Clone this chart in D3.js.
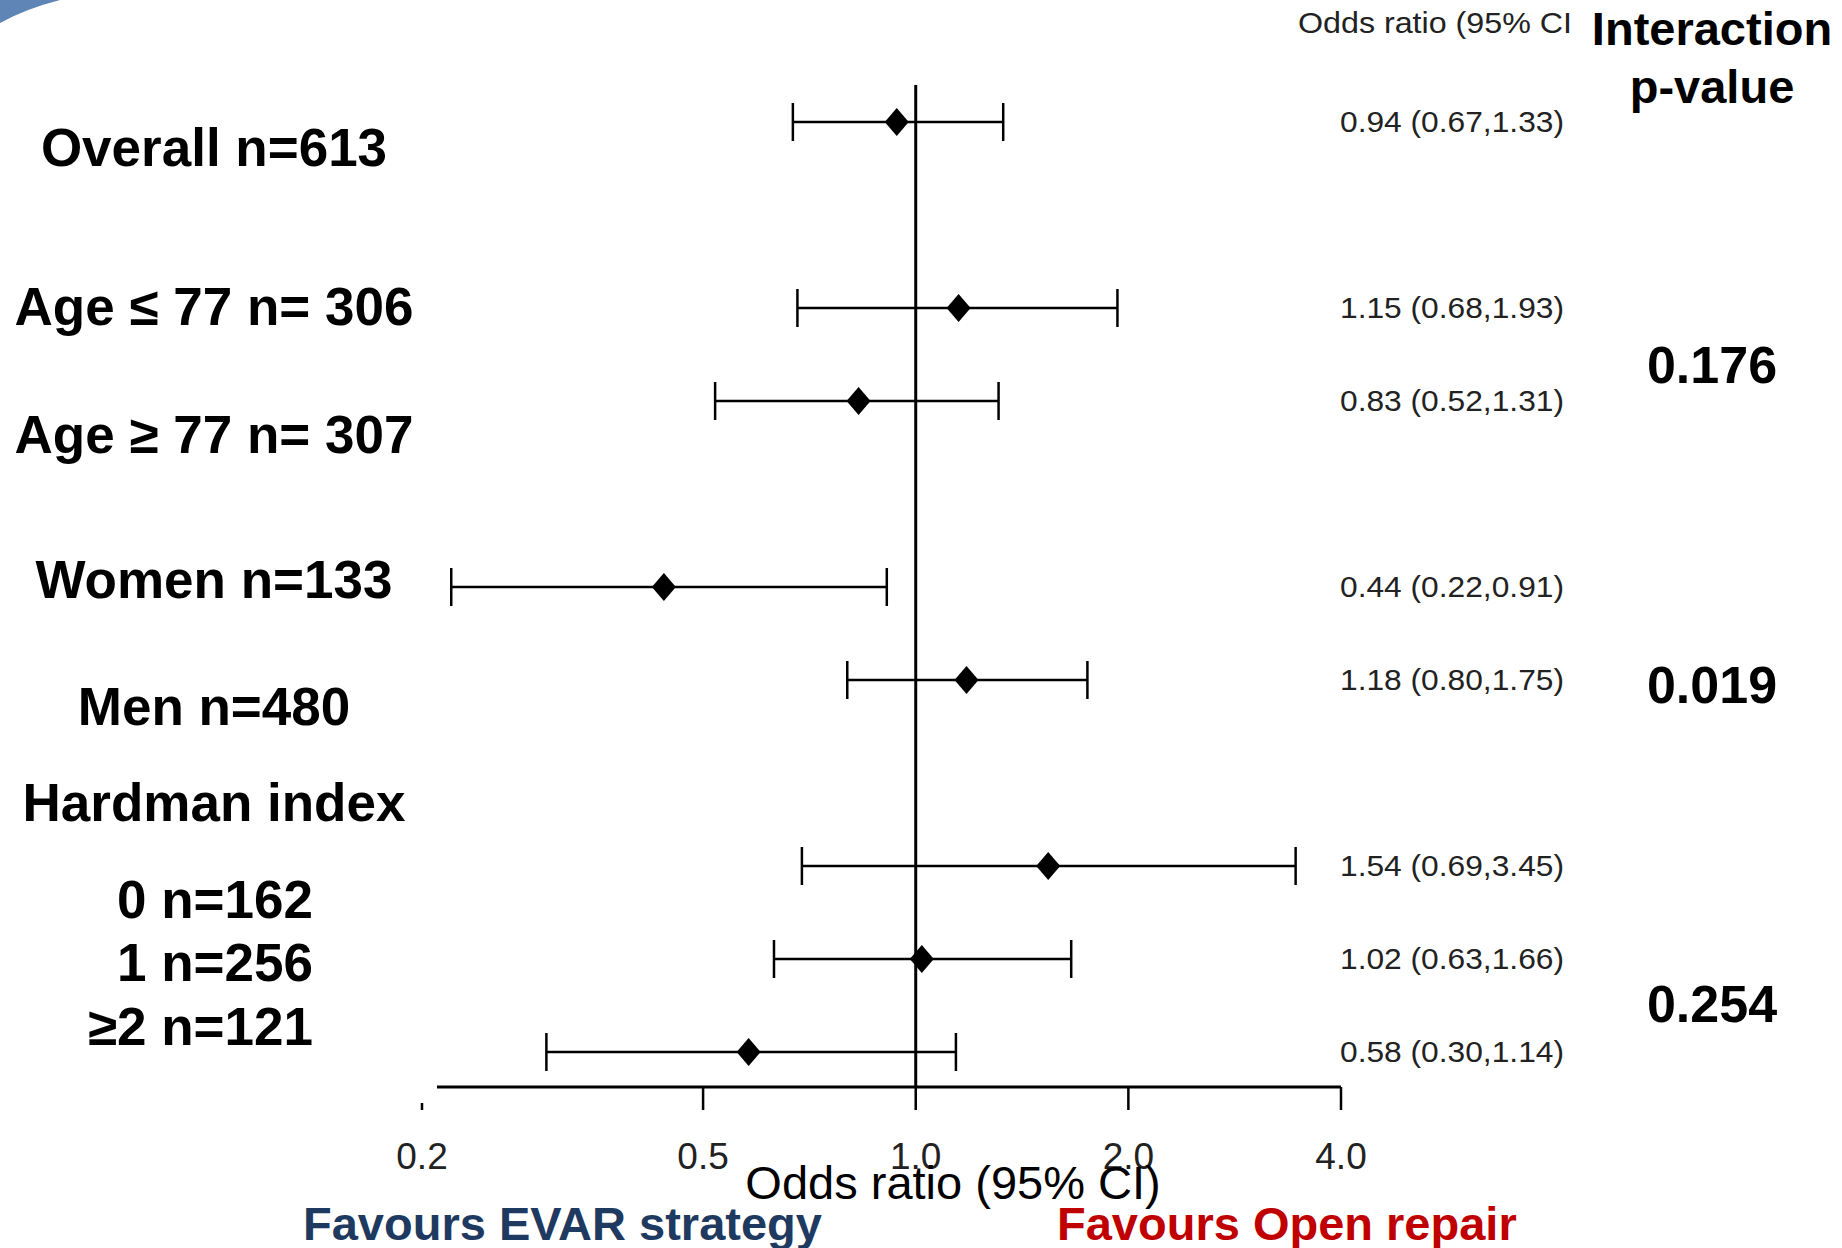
<!DOCTYPE html>
<html>
<head>
<meta charset="utf-8">
<script src="https://cdn.jsdelivr.net/npm/d3@7"></script>
<style>
  html, body { margin: 0; padding: 0; background: #fff; }
  svg { display: block; font-family: "Liberation Sans", Arial, sans-serif; }
</style>
</head>
<body>
<script>
/* subgroup estimates */
var subgroups = ["Overall", "Age <= 77", "Age >= 77", "Women", "Men", "Hardman 0", "Hardman 1", "Hardman >=2"];
var oddsRatio = [0.94, 1.15, 0.83, 0.44, 1.18, 1.54, 1.02, 0.58];
var ciLower   = [0.67, 0.68, 0.52, 0.22, 0.80, 0.69, 0.63, 0.30];
var ciUpper   = [1.33, 1.93, 1.31, 0.91, 1.75, 3.45, 1.66, 1.14];
var rowSlot   = [0, 2, 3, 5, 6, 8, 9, 10];

var rowLabels = ["Overall n=613", "Age \u2264 77 n= 306", "Age \u2265 77 n= 307", "Women n=133",
                 "Men n=480", "Hardman index", "0 n=162", "1 n=256", "\u22652 n=121"];
var labelSlot = [0.27, 1.98, 3.35, 4.91, 6.28, 7.31, 8.35, 9.03, 9.72];

var pValues = ["0.176", "0.019", "0.254"];
var pSlot   = [2.61, 6.05, 9.48];

var tickValues = [0.2, 0.5, 1, 2, 4];
var tickLabels = ["0.2", "0.5", "1.0", "2.0", "4.0"];

var W = 1842, H = 1248;

var svg = d3.select("body").append("svg")
    .attr("width", W)
    .attr("height", H);

var x = d3.scaleLog().domain([0.2, 4]).range([422, 1341]);
var y = d3.scaleLinear().domain([0, 10]).range([122, 1052]);

var axisY = 1087;

/** slide decoration in the corner **/
svg.append("path")
    .attr("d", "M0,0 L60,0 Q25,9 0,23 Z")
    .attr("fill", "#5f84b6");

/** reference line at OR = 1 **/
svg.append("line")
    .attr("x1", x(1)).attr("x2", x(1))
    .attr("y1", 85).attr("y2", axisY)
    .attr("stroke", "#000").attr("stroke-width", 3);

/** x axis, drawn by hand to keep the odd look of the original **/
svg.append("line")
    .attr("x1", x(0.21)).attr("x2", x(4))
    .attr("y1", axisY).attr("y2", axisY)
    .attr("stroke", "#000").attr("stroke-width", 3);

svg.selectAll(".tick")
    .data(tickValues)
    .enter().append("line")
    .attr("class", "tick")
    .attr("x1", function (d) { return x(d); })
    .attr("x2", function (d) { return x(d); })
    .attr("y1", function (d) { return d === 0.2 ? 1103 : axisY; })
    .attr("y2", 1110)
    .attr("stroke", "#000").attr("stroke-width", 2.5);

svg.selectAll(".tick-label")
    .data(tickValues)
    .enter().append("text")
    .attr("class", "tick-label")
    .attr("x", function (d) { return x(d); })
    .attr("y", 1169)
    .attr("text-anchor", "middle")
    .attr("font-size", 37)
    .attr("fill", "#222")
    .text(function (d, i) { return tickLabels[i]; });

svg.append("text")
    .attr("x", 953).attr("y", 1199)
    .attr("text-anchor", "middle")
    .attr("font-size", 47)
    .attr("fill", "#000")
    .text("Odds ratio (95% CI)");

svg.append("text")
    .attr("x", 303).attr("y", 1240)
    .attr("font-size", 47).attr("font-weight", "bold")
    .attr("fill", "#1f3a60")
    .text("Favours EVAR strategy");

svg.append("text")
    .attr("x", 1057).attr("y", 1240)
    .attr("font-size", 47).attr("font-weight", "bold")
    .attr("fill", "#c00000")
    .text("Favours Open repair");

/** error bars and point estimates **/
var capHalf = 19;

var rows = svg.selectAll(".row")
    .data(oddsRatio)
    .enter().append("g")
    .attr("class", "row")
    .attr("transform", function (d, i) { return "translate(0," + y(rowSlot[i]) + ")"; });

rows.append("line")
    .attr("x1", function (d, i) { return x(ciLower[i]); })
    .attr("x2", function (d, i) { return x(ciUpper[i]); })
    .attr("y1", 0).attr("y2", 0)
    .attr("stroke", "#000").attr("stroke-width", 2.7);

rows.append("line")
    .attr("x1", function (d, i) { return x(ciLower[i]); })
    .attr("x2", function (d, i) { return x(ciLower[i]); })
    .attr("y1", -capHalf).attr("y2", capHalf)
    .attr("stroke", "#000").attr("stroke-width", 2.5);

rows.append("line")
    .attr("x1", function (d, i) { return x(ciUpper[i]); })
    .attr("x2", function (d, i) { return x(ciUpper[i]); })
    .attr("y1", -capHalf).attr("y2", capHalf)
    .attr("stroke", "#000").attr("stroke-width", 2.5);

rows.append("path")
    .attr("d", function (d) {
        var cx = x(d);
        return "M" + cx + ",-14 L" + (cx + 12) + ",0 L" + cx + ",14 L" + (cx - 12) + ",0 Z";
    })
    .attr("fill", "#000");

rows.append("text")
    .attr("x", 1564)
    .attr("y", 10)
    .attr("text-anchor", "end")
    .attr("font-size", 29)
    .attr("fill", "#222")
    .attr("textLength", 224)
    .attr("lengthAdjust", "spacingAndGlyphs")
    .text(function (d, i) {
        return d.toFixed(2) + " (" + ciLower[i].toFixed(2) + "," + ciUpper[i].toFixed(2) + ")";
    });

/** column header for the estimates **/
svg.append("text")
    .attr("x", 1298).attr("y", 33)
    .attr("font-size", 30)
    .attr("fill", "#222")
    .attr("textLength", 274)
    .attr("lengthAdjust", "spacingAndGlyphs")
    .text("Odds ratio (95% CI");

/** subgroup labels on the left **/
svg.selectAll(".row-label")
    .data(rowLabels)
    .enter().append("text")
    .attr("class", "row-label")
    .attr("x", function (d, i) { return i >= 6 ? 313 : 214; })
    .attr("y", function (d, i) { return y(labelSlot[i]) + 19; })
    .attr("text-anchor", function (d, i) { return i >= 6 ? "end" : "middle"; })
    .attr("font-size", 53)
    .attr("font-weight", "bold")
    .attr("fill", "#000")
    .text(function (d) { return d; });

/** interaction p-values **/
svg.append("text")
    .attr("x", 1712).attr("y", 45)
    .attr("text-anchor", "middle")
    .attr("font-size", 47).attr("font-weight", "bold")
    .text("Interaction");

svg.append("text")
    .attr("x", 1712).attr("y", 103)
    .attr("text-anchor", "middle")
    .attr("font-size", 47).attr("font-weight", "bold")
    .text("p-value");

svg.selectAll(".pval")
    .data(pValues)
    .enter().append("text")
    .attr("class", "pval")
    .attr("x", 1712)
    .attr("y", function (d, i) { return y(pSlot[i]) + 18; })
    .attr("text-anchor", "middle")
    .attr("font-size", 52)
    .attr("font-weight", "bold")
    .text(function (d) { return d; });
</script>
</body>
</html>
